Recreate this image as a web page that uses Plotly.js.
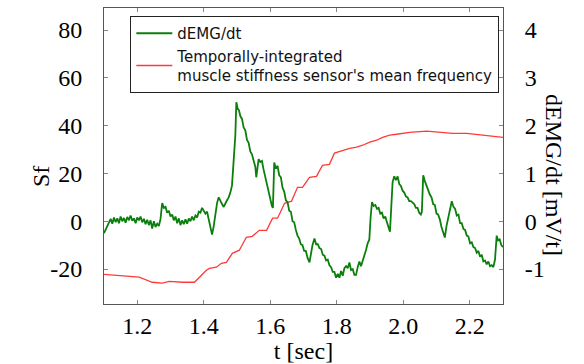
<!DOCTYPE html>
<html>
<head>
<meta charset="utf-8">
<script src="https://cdn.plot.ly/plotly-3.0.1.min.js"></script>
<style>html,body{margin:0;padding:0;background:#fff;}#chart{width:584px;height:364px;}</style>
</head>
<body>
<div id="chart"></div>
<script>
// dEMG/dt [mV/t] (right axis)
const tEmg = [1.100,1.105,1.110,1.115,1.120,1.125,1.130,1.135,1.140,1.145,1.150,1.155,1.160,1.165,1.170,1.175,1.180,1.185,1.190,1.195,
1.200,1.205,1.210,1.215,1.220,1.225,1.230,1.235,1.240,1.245,1.250,1.255,1.260,1.265,1.270,1.275,1.280,1.285,1.290,1.295,
1.300,1.305,1.310,1.315,1.320,1.325,1.330,1.335,1.340,1.345,1.350,1.355,1.360,1.365,1.370,1.375,1.380,1.385,1.390,1.395,
1.400,1.405,1.410,1.415,1.420,1.425,1.430,1.435,1.440,1.445,1.450,1.455,1.460,1.465,1.470,1.475,1.480,1.485,1.490,1.495,
1.498,1.502,1.506,1.510,1.515,1.520,1.525,1.530,1.535,1.540,1.545,1.550,1.555,1.558,1.562,1.565,1.570,1.575,1.580,1.585,
1.590,1.595,1.600,1.605,1.608,1.612,1.617,1.622,1.627,1.632,1.637,1.642,1.647,1.652,1.657,1.662,1.667,1.672,1.677,1.682,
1.687,1.692,1.697,1.702,1.707,1.712,1.718,1.722,1.727,1.733,1.738,1.743,1.748,1.753,1.758,1.763,1.768,1.773,1.778,1.783,
1.788,1.793,1.798,1.803,1.808,1.813,1.818,1.823,1.828,1.833,1.838,1.843,1.848,1.853,1.858,1.863,1.868,1.873,1.878,1.883,
1.888,1.893,1.898,1.902,1.906,1.911,1.916,1.921,1.926,1.931,1.936,1.941,1.946,1.951,1.956,1.960,1.964,1.968,1.973,1.978,
1.983,1.988,1.993,1.998,2.003,2.008,2.013,2.018,2.023,2.028,2.033,2.038,2.043,2.048,2.053,2.056,2.060,2.065,2.070,2.075,
2.080,2.085,2.090,2.095,2.100,2.105,2.110,2.115,2.120,2.125,2.130,2.135,2.140,2.146,2.151,2.156,2.161,2.166,2.171,2.176,
2.181,2.186,2.191,2.196,2.201,2.206,2.211,2.216,2.221,2.226,2.231,2.236,2.241,2.246,2.251,2.256,2.261,2.266,2.271,2.276,
2.281,2.285,2.290,2.295,2.300];
const vEmg = [-0.25,-0.18,-0.10,-0.02,0.05,-0.05,0.08,-0.02,0.06,-0.04,0.10,0.00,0.07,-0.03,0.09,0.02,0.12,0.01,0.06,-0.04,
0.08,0.02,0.10,-0.02,0.05,-0.06,0.03,-0.08,0.02,-0.15,0.00,-0.12,-0.05,-0.10,0.05,0.38,0.28,0.30,0.18,0.22,
0.10,0.14,0.02,0.10,-0.04,0.06,-0.08,0.02,-0.06,0.04,-0.05,0.06,0.00,0.10,0.02,0.12,0.08,0.20,0.18,0.28,
0.22,0.16,0.20,0.05,-0.10,-0.28,-0.10,0.15,0.38,0.50,0.42,0.36,0.30,0.38,0.44,0.50,0.60,0.75,1.20,1.80,
2.49,2.36,2.32,2.20,2.14,1.96,1.90,1.70,1.64,1.46,1.40,1.26,1.14,0.92,1.22,1.30,1.24,1.26,1.08,0.92,
0.76,0.58,0.48,0.32,0.28,1.23,1.10,1.16,0.96,0.92,0.70,0.62,0.44,0.40,0.22,0.20,0.00,-0.02,-0.18,-0.30,
-0.36,-0.48,-0.50,-0.62,-0.62,-0.76,-0.86,-0.66,-0.50,-0.36,-0.48,-0.48,-0.56,-0.58,-0.70,-0.72,-0.82,-0.80,-0.92,-0.96,
-1.06,-1.06,-1.18,-1.10,-1.18,-1.04,-1.14,-0.98,-0.94,-0.98,-0.86,-1.02,-1.00,-1.12,-1.12,-0.96,-0.84,-0.94,-0.84,-0.72,
-0.60,-0.46,-0.38,0.10,0.40,0.32,0.34,0.26,0.28,0.16,0.18,0.06,0.10,-0.02,-0.12,-0.22,0.30,0.82,0.94,0.86,
0.94,0.78,0.74,0.64,0.60,0.52,0.50,0.42,0.42,0.38,0.36,0.28,0.28,0.18,0.14,0.20,0.96,0.84,0.74,0.66,
0.56,0.50,0.36,0.34,0.16,0.14,0.04,-0.12,-0.22,-0.34,-0.10,0.06,0.20,0.42,0.30,0.26,0.12,0.14,-0.04,-0.04,
-0.16,-0.18,-0.30,-0.32,-0.46,-0.44,-0.54,-0.56,-0.66,-0.62,-0.74,-0.70,-0.84,-0.82,-0.90,-0.84,-0.94,-0.92,-0.96,-0.80,
-0.30,-0.40,-0.38,-0.50,-0.54];

// Sf (left axis): temporally-integrated muscle stiffness sensor's mean frequency
const tSf = [1.098,1.206,1.245,1.275,1.296,1.336,1.372,1.387,1.408,1.417,1.438,1.453,1.468,1.486,1.507,1.528,1.546,1.567,1.589,1.607,
1.622,1.643,1.664,1.682,1.697,1.718,1.739,1.757,1.778,1.793,1.817,1.839,1.860,1.878,1.899,1.920,1.938,1.959,1.980,2.019,
2.070,2.110,2.149,2.191,2.239,2.300];
const sf = [-22.2,-23.4,-25.5,-25.9,-25.1,-25.5,-25.5,-23.4,-20.5,-19.7,-19.2,-17.6,-17.2,-13.4,-12.1,-6.7,-6.3,-3.8,-3.8,1.3,
1.3,7.5,8.4,14.2,14.2,18.4,18.8,23.4,23.8,28.5,29.7,30.5,31.0,31.8,33.1,33.9,35.1,36.0,36.4,37.2,
37.7,37.2,36.8,36.8,36.0,35.1];

const xTicks = [1.2,1.4,1.6,1.8,2.0,2.2];
const xTickText = ['1.2','1.4','1.6','1.8','2.0','2.2'];
const yTicks = [-20,0,20,40,60,80];
const yTickText = ['-20','0','20','40','60','80'];
const y2Ticks = [-1,0,1,2,3,4];
const y2TickText = ['-1','0','1','2','3','4'];

const serif = 'Liberation Serif, Times New Roman, serif';
const traces = [
  {x: tEmg, y: vEmg, yaxis: 'y2', type: 'scatter', mode: 'lines', name: 'dEMG/dt',
   line: {color: '#0b7f0b', width: 1.8}},
  {x: tSf, y: sf, yaxis: 'y', type: 'scatter', mode: 'lines',
   name: "Temporally-integrated<br>muscle stiffness sensor's mean frequency",
   line: {color: '#ff3a3a', width: 1.3}}
];
const layout = {
  width: 584, height: 364,
  margin: {l: 104, r: 81, t: 8, b: 60},
  paper_bgcolor: '#fff', plot_bgcolor: '#fff',
  showlegend: true,
  legend: {x: 0.066, y: 0.973, xanchor: 'left', yanchor: 'top',
    bordercolor: '#222', borderwidth: 1, bgcolor: '#fff',
    font: {family: 'DejaVu Sans, sans-serif', size: 15, color: '#111'},
    itemwidth: 36, tracegroupgap: 0},
  xaxis: {range: [1.1, 2.3], tickvals: xTicks, ticktext: xTickText,
    showgrid: false, zeroline: false, showline: true, linecolor: '#555', linewidth: 1,
    mirror: 'ticks', ticks: 'inside', ticklen: 4, tickcolor: '#888',
    ticklabelstandoff: 0,
    tickfont: {family: serif, size: 24, color: '#000'},
    title: {text: 't [sec]', font: {family: serif, size: 24, color: '#000'}, standoff: 3}},
  yaxis: {range: [-34.6, 89.2], tickvals: yTicks, ticktext: yTickText,
    showgrid: false, zeroline: false, showline: true, linecolor: '#555', linewidth: 1,
    ticks: 'inside', ticklen: 4, tickcolor: '#888', ticklabelstandoff: 16,
    tickfont: {family: serif, size: 24, color: '#000'}},
  yaxis2: {range: [-1.73, 4.46], tickvals: y2Ticks, ticktext: y2TickText, overlaying: 'y', side: 'right',
    showgrid: false, zeroline: false, showline: true, linecolor: '#555', linewidth: 1,
    ticks: 'inside', ticklen: 4, tickcolor: '#888', ticklabelstandoff: 16,
    tickfont: {family: serif, size: 24, color: '#000'}},
  annotations: [
    {text: 'Sf', xref: 'paper', yref: 'paper', x: (26-104)/399, y: (304-177)/296,
     showarrow: false, textangle: -90, font: {family: serif, size: 24, color: '#000'}},
    {text: 'dEMG/dt [mV/t]', xref: 'paper', yref: 'paper', x: (569-104)/399, y: (304-175)/296,
     showarrow: false, textangle: 90, font: {family: serif, size: 24, color: '#000'}}
  ]
};
Plotly.newPlot('chart', traces, layout, {staticPlot: true, displayModeBar: false});
</script>
</body>
</html>
